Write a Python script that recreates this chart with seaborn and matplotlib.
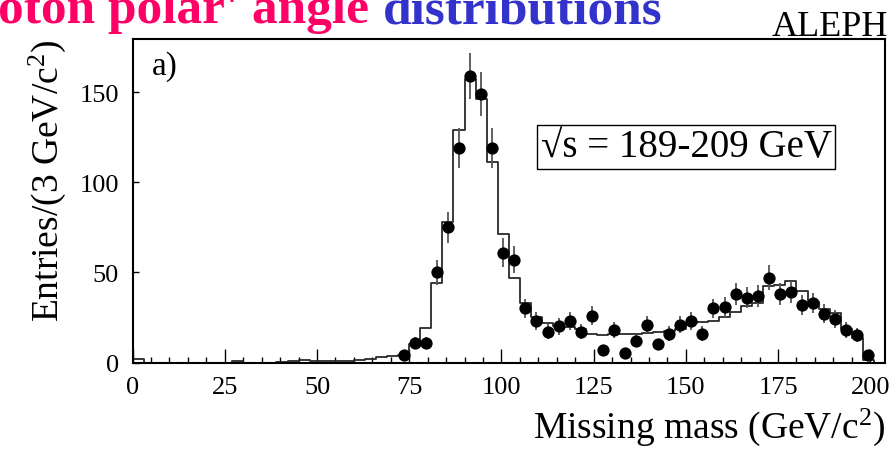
import numpy as np
import pandas as pd
import matplotlib
matplotlib.use("Agg")
import matplotlib.pyplot as plt
import seaborn as sns

# Data: events per 3 GeV/c^2 bin (bin centres)
data_mass = [73.5, 76.5, 79.5, 82.5, 85.5, 88.5, 91.5, 94.5, 97.5, 100.5,
             103.5, 106.5, 109.5, 112.5, 115.5, 118.5, 121.5, 124.5, 127.5, 130.5,
             133.5, 136.5, 139.5, 142.5, 145.5, 148.5, 151.5, 154.5, 157.5, 160.5,
             163.5, 166.5, 169.5, 172.5, 175.5, 178.5, 181.5, 184.5, 187.5, 190.5,
             193.5, 196.5, 199.5]
data_counts = [4, 11, 11, 50, 75, 119, 159, 149, 119, 61,
               57, 30, 23, 17, 20, 23, 17, 26, 7, 18,
               5, 12, 21, 10, 16, 21, 23, 16, 30, 31,
               38, 36, 37, 47, 38, 39, 32, 33, 27, 24,
               18, 15, 4]

# Simulation: expected entries in 3 GeV/c^2 bins from 0 to 204
mc_edges = list(range(0, 205, 3))
mc_counts = [2, 0, 0, 0, 0, 0, 0, 0, 0, 1,
             0, 0, 0, 0.5, 0.7, 1.2, 1, 0.8, 1, 1,
             1.5, 2, 3, 3.5, 4, 10, 19, 44, 78, 129,
             157, 146, 111, 71, 47, 33, 25, 22, 20.5, 19.5,
             18.5, 16, 15.3, 16, 16, 16, 16.5, 17, 17.5, 18.5,
             21.7, 22.5, 23.2, 25, 27.8, 31.5, 33, 42.3, 43, 45,
             39.5, 33.4, 29.7, 27.5, 18.6, 13.4, 1.5, 0]

x_ticks = [0, 25, 50, 75, 100, 125, 150, 175, 200]
y_ticks = [0, 50, 100, 150]

sns.set_style("ticks")
plt.rcParams["font.family"] = ["Liberation Serif", "DejaVu Serif"]
plt.rcParams["mathtext.fontset"] = "custom"
plt.rcParams["mathtext.rm"] = "Liberation Serif"
plt.rcParams["mathtext.it"] = "Liberation Serif:italic"
for key in ("text.color", "axes.labelcolor", "xtick.color", "ytick.color",
            "axes.edgecolor"):
    plt.rcParams[key] = "black"

W, H = 892, 452
fig = plt.figure(figsize=(W / 100, H / 100), dpi=100)

def fx(px):
    return px / W

def fy(py):
    return 1 - py / H

ax = fig.add_axes([fx(132.6), fy(363.5), fx(885 - 132.6), (363.5 - 39.5) / H])

mc_df = pd.DataFrame({
    "mass": [(mc_edges[i] + mc_edges[i + 1]) / 2 for i in range(len(mc_counts))],
    "w": mc_counts,
})
sns.histplot(data=mc_df, x="mass", weights="w", bins=mc_edges, element="step",
             fill=False, color="#2a2a2a", linewidth=1.3, ax=ax)

err = np.sqrt(np.array(data_counts, dtype=float))
ax.errorbar(data_mass, data_counts, yerr=err, fmt="none", ecolor="#555555",
            elinewidth=1.3, capsize=0, zorder=3)
sns.scatterplot(x=data_mass, y=data_counts, color="black", s=78,
                edgecolor="black", linewidth=0, ax=ax, zorder=4)

ax.set_xlim(0, 204)
ax.set_ylim(0, 179.7)
ax.set_xticks(x_ticks)
ax.set_xticks(np.arange(0, 205, 5), minor=True)
ax.set_yticks(y_ticks)
ax.tick_params(axis="x", which="major", direction="in", length=10, width=1,
               labelsize=19, pad=10, top=False)
ax.tick_params(axis="x", which="minor", direction="in", length=4.3, width=1, top=False)
ax.tick_params(axis="y", which="major", direction="in", length=4.5, width=1,
               labelsize=19, pad=10, right=False)
for s in ax.spines.values():
    s.set_linewidth(1.5)
    s.set_color("black")

ax.set_xlabel("Missing mass (GeV/c$^{2}$)", fontsize=27, loc="right", labelpad=5)
ax.set_ylabel("Entries/(3 GeV/c$^{2}$)", fontsize=27, loc="top", labelpad=8)

ax.text(fx(152 - 132.6) / fx(885 - 132.6), 0.965, "a)", transform=ax.transAxes,
        fontsize=24, ha="left", va="top")

fig.text(fx(686), fy(148), "\u221as = 189-209 GeV", fontsize=28, ha="center",
         va="center", bbox=dict(boxstyle="square,pad=0.08", facecolor="white",
                                edgecolor="black", linewidth=1))

fig.text(fx(888), fy(36), "ALEPH", fontsize=26, ha="right", va="baseline")

fig.text(fx(-2), fy(23), "oton polar' angle", fontsize=37, fontweight="bold",
         color="#ff0066", ha="left", va="baseline")
fig.text(fx(383), fy(23), "distributions", fontsize=37, fontweight="bold",
         color="#3333cc", ha="left", va="baseline")

fig.savefig("out.png", dpi=100)
